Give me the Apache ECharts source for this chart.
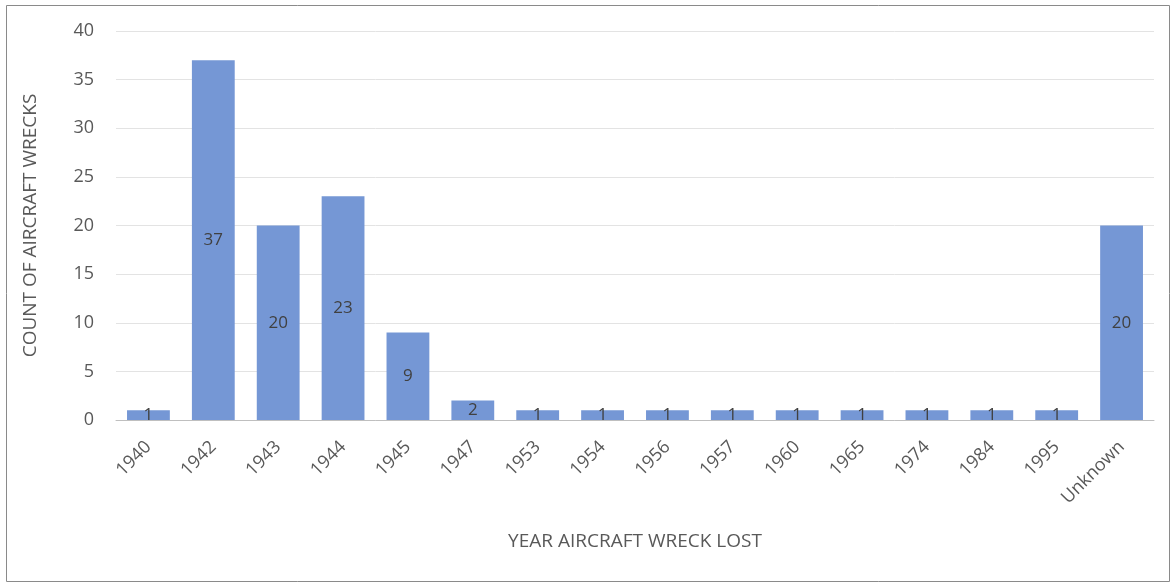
<!DOCTYPE html>
<html>
<head>
<meta charset="utf-8">
<script src="https://cdn.jsdelivr.net/npm/echarts@6/dist/echarts.min.js"></script>
<style>
    html, body { margin: 0; padding: 0; background: #fff; }
    #chart { width: 1172px; height: 584px; }
</style>
</head>
<body>
<div id="chart"></div>
<script>
    // data
    const years = ["1940", "1942", "1943", "1944", "1945", "1947", "1953", "1954",
        "1956", "1957", "1960", "1965", "1974", "1984", "1995", "Unknown"];
    const wrecks = [1, 37, 20, 23, 9, 2, 1, 1, 1, 1, 1, 1, 1, 1, 1, 20];
    const yTicks = [0, 5, 10, 15, 20, 25, 30, 35, 40];

    const font = "'Open Sans', 'Noto Sans', sans-serif";
    const myChart = echarts.init(document.getElementById("chart"));

    const option = {
        animation: false,
        textStyle: { fontFamily: font },
        graphic: [
            {
                type: "rect",
                shape: { x: 6.5, y: 5.5, width: 1163, height: 576 },
                style: { fill: "none", stroke: "#8a8a8a", lineWidth: 1 },
                silent: true,
            },
        ],
        grid: {
            left: 116,
            right: 18,
            top: 31,
            bottom: 164,
        },
        xAxis: {
            type: "category",
            data: years,
            name: "YEAR AIRCRAFT WRECK LOST",
            nameLocation: "middle",
            nameGap: 112,
            nameTextStyle: { color: "#595959", fontSize: 19 },
            axisLine: { lineStyle: { color: "#bfbfbf", width: 1 } },
            axisTick: { show: false },
            axisLabel: {
                rotate: 45,
                color: "#595959",
                fontSize: 18,
                margin: 24,
                interval: 0,
            },
        },
        yAxis: {
            type: "value",
            min: yTicks[0],
            max: yTicks[yTicks.length - 1],
            interval: 5,
            name: "COUNT OF AIRCRAFT WRECKS",
            nameLocation: "middle",
            nameGap: 76,
            nameTextStyle: { color: "#595959", fontSize: 19 },
            axisLine: { show: false },
            axisTick: { show: false },
            axisLabel: { color: "#595959", fontSize: 18, margin: 22 },
            splitLine: { lineStyle: { color: "#e3e3e3", width: 1 } },
        },
        series: [
            {
                type: "bar",
                data: wrecks,
                barWidth: "66%",
                itemStyle: { color: "#7597d5" },
                label: {
                    show: true,
                    position: "inside",
                    color: "#404040",
                    fontSize: 17,
                },
            },
        ],
    };
    myChart.setOption(option);
</script>
</body>
</html>
